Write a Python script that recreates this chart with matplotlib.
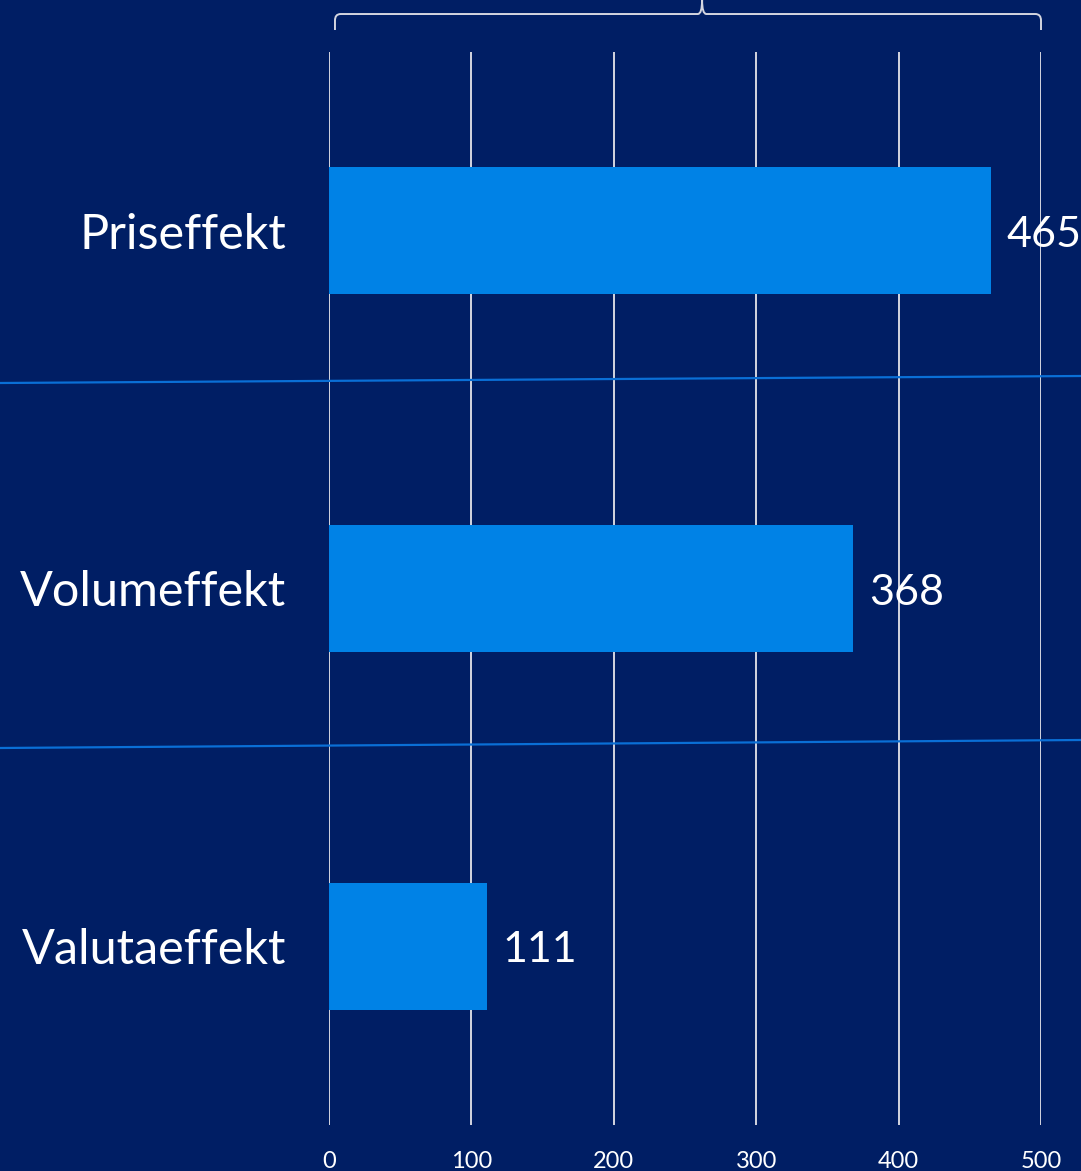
import matplotlib
matplotlib.use("Agg")
import matplotlib.pyplot as plt
from matplotlib.path import Path
from matplotlib.patches import PathPatch
from matplotlib.lines import Line2D
import matplotlib.transforms as mtransforms

# data
categories = ["Priseffekt", "Volumeffekt", "Valutaeffekt"]
values = [465, 368, 111]
ticks = [0, 100, 200, 300, 400, 500]

bg = "#001E64"
bar_col = "#0082E6"
grid_col = "#D4D6E0"
font = ["Lato", "DejaVu Sans"]

fig = plt.figure(figsize=(10.81, 11.71), dpi=100, facecolor=bg)
ax = fig.add_axes([329 / 1081, 46 / 1171, 712 / 1081, 1073 / 1171])
ax.set_facecolor(bg)

y = list(range(len(categories)))
ax.barh(y, values, height=0.355, color=bar_col, zorder=3)
ax.set_xlim(0, 500)
ax.set_ylim(2.5, -0.5)

# vertical grid
for t in ticks:
    ax.axvline(t, color=grid_col, lw=1.4, zorder=1)

ax.set_xticks(ticks)
ax.set_xticklabels([str(t) for t in ticks], family=font, fontsize=17, color="white")
ax.tick_params(axis="x", length=0, pad=19)
ax.set_yticks(y)
ax.set_yticklabels(categories, family=font, fontsize=35, color="white")
ax.tick_params(axis="y", length=0, pad=31)
for s in ax.spines.values():
    s.set_visible(False)

# value labels
for yi, v in zip(y, values):
    ax.text(v + 11, yi + 0.012, str(v), va="center", ha="left", family=font,
            fontsize=31, color="white", zorder=4, clip_on=False)

# thin blue separators across the whole figure
for y0, y1 in [(383, 376), (748, 740)]:
    fig.add_artist(Line2D([0, 1], [1 - y0 / 1171, 1 - y1 / 1171],
                          transform=fig.transFigure, color="#0A6FD6", lw=1.6))

# brace above the axis
tr = mtransforms.blended_transform_factory(ax.transData, ax.transAxes)
xl, xm, xr = 4.2, 262, 500
yb, yh, yt = 1.0205, 1.0354, 1.0485
verts = [
    (xl, yb), (xl, yh - 0.006), (xl, yh), (xl + 4, yh),
    (xm - 3, yh), (xm, yh), (xm, yt),
    (xm, yh), (xm + 3, yh),
    (xr - 4, yh), (xr, yh), (xr, yh - 0.006), (xr, yb),
]
codes = [
    Path.MOVETO, Path.LINETO, Path.CURVE3, Path.CURVE3,
    Path.LINETO, Path.CURVE3, Path.CURVE3,
    Path.CURVE3, Path.CURVE3,
    Path.LINETO, Path.CURVE3, Path.CURVE3, Path.LINETO,
]
brace = PathPatch(Path(verts, codes), transform=tr, fill=False,
                  edgecolor=grid_col, lw=1.4, clip_on=False)
ax.add_patch(brace)

fig.savefig("out.png", dpi=100, facecolor=bg)
